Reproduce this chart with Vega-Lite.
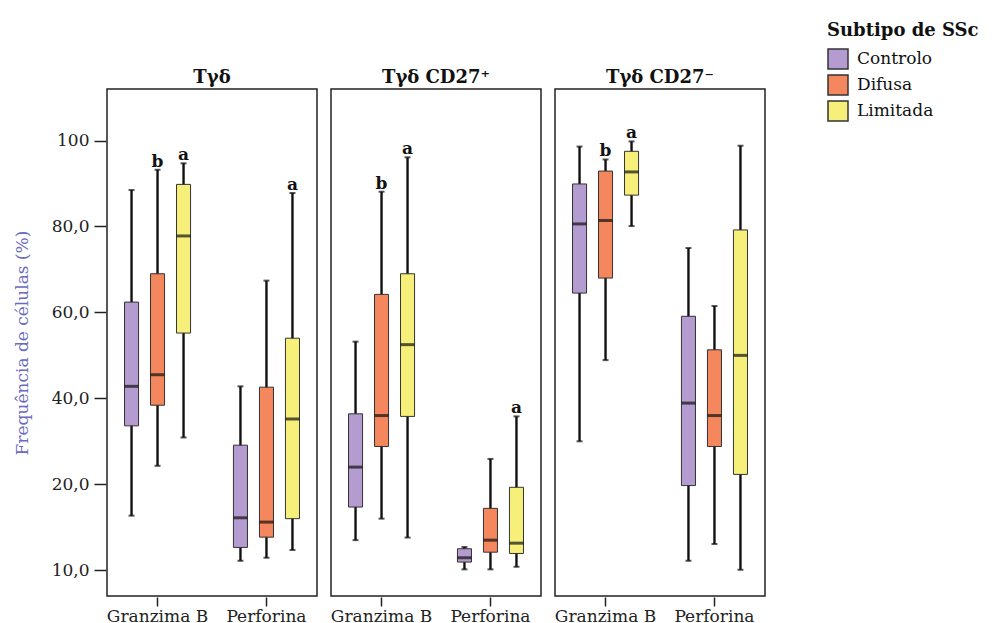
{
  "$schema": "https://vega.github.io/schema/vega-lite/v6.json",
  "padding": {"left": 13, "top": 22, "right": 0, "bottom": 0},
  "data": {"values": [
    {"panel": "Tγδ", "marker": "Granzima B", "group": "Controlo", "min": 12.7, "q1": 33.6, "median": 42.8, "q3": 62.4, "max": 88.5, "letter": ""},
    {"panel": "Tγδ", "marker": "Granzima B", "group": "Difusa", "min": 24.3, "q1": 38.4, "median": 45.5, "q3": 69.0, "max": 93.2, "letter": "b"},
    {"panel": "Tγδ", "marker": "Granzima B", "group": "Limitada", "min": 30.9, "q1": 55.2, "median": 77.8, "q3": 89.8, "max": 94.7, "letter": "a"},
    {"panel": "Tγδ", "marker": "Perforina", "group": "Controlo", "min": 2.2, "q1": 5.3, "median": 12.2, "q3": 29.1, "max": 42.8, "letter": ""},
    {"panel": "Tγδ", "marker": "Perforina", "group": "Difusa", "min": 2.9, "q1": 7.7, "median": 11.2, "q3": 42.6, "max": 67.4, "letter": ""},
    {"panel": "Tγδ", "marker": "Perforina", "group": "Limitada", "min": 4.7, "q1": 12.0, "median": 35.2, "q3": 54.0, "max": 87.8, "letter": "a"},
    {"panel": "Tγδ CD27⁺", "marker": "Granzima B", "group": "Controlo", "min": 7.0, "q1": 14.7, "median": 24.0, "q3": 36.4, "max": 53.2, "letter": ""},
    {"panel": "Tγδ CD27⁺", "marker": "Granzima B", "group": "Difusa", "min": 12.0, "q1": 28.8, "median": 36.0, "q3": 64.2, "max": 88.1, "letter": "b"},
    {"panel": "Tγδ CD27⁺", "marker": "Granzima B", "group": "Limitada", "min": 7.6, "q1": 35.8, "median": 52.5, "q3": 69.0, "max": 96.1, "letter": "a"},
    {"panel": "Tγδ CD27⁺", "marker": "Perforina", "group": "Controlo", "min": 0.2, "q1": 1.9, "median": 2.9, "q3": 5.0, "max": 5.4, "letter": ""},
    {"panel": "Tγδ CD27⁺", "marker": "Perforina", "group": "Difusa", "min": 0.2, "q1": 4.2, "median": 7.0, "q3": 14.4, "max": 25.9, "letter": ""},
    {"panel": "Tγδ CD27⁺", "marker": "Perforina", "group": "Limitada", "min": 0.8, "q1": 3.9, "median": 6.3, "q3": 19.3, "max": 35.8, "letter": "a"},
    {"panel": "Tγδ CD27⁻", "marker": "Granzima B", "group": "Controlo", "min": 30.0, "q1": 64.5, "median": 80.6, "q3": 89.9, "max": 98.6, "letter": ""},
    {"panel": "Tγδ CD27⁻", "marker": "Granzima B", "group": "Difusa", "min": 48.9, "q1": 68.0, "median": 81.4, "q3": 92.9, "max": 95.6, "letter": "b"},
    {"panel": "Tγδ CD27⁻", "marker": "Granzima B", "group": "Limitada", "min": 80.1, "q1": 87.3, "median": 92.7, "q3": 97.5, "max": 99.8, "letter": "a"},
    {"panel": "Tγδ CD27⁻", "marker": "Perforina", "group": "Controlo", "min": 2.2, "q1": 19.7, "median": 38.9, "q3": 59.1, "max": 75.0, "letter": ""},
    {"panel": "Tγδ CD27⁻", "marker": "Perforina", "group": "Difusa", "min": 6.1, "q1": 28.8, "median": 36.0, "q3": 51.3, "max": 61.5, "letter": ""},
    {"panel": "Tγδ CD27⁻", "marker": "Perforina", "group": "Limitada", "min": 0.1, "q1": 22.3, "median": 50.0, "q3": 79.2, "max": 98.8, "letter": ""}
  ]},
  "facet": {
    "column": {
      "field": "panel", "type": "nominal",
      "sort": ["Tγδ", "Tγδ CD27⁺", "Tγδ CD27⁻"],
      "header": {"title": null, "labelFont": "DejaVu Serif", "labelFontWeight": "bold", "labelFontSize": 18, "labelColor": "#111", "labelPadding": 1}
    }
  },
  "spacing": 12,
  "spec": {
    "width": 210,
    "height": 507,
    "encoding": {
      "x": {"field": "marker", "type": "nominal", "sort": ["Granzima B", "Perforina"],
        "scale": {"paddingInner": 0.1, "paddingOuter": 0.014},
        "axis": {"title": null, "labelAngle": 0}},
      "xOffset": {"field": "group", "type": "nominal", "sort": ["Controlo", "Difusa", "Limitada"],
        "scale": {"paddingInner": 0.46, "paddingOuter": 0.615}}
    },
    "layer": [
      {
        "mark": {"type": "rule", "color": "#111", "strokeWidth": 2.4},
        "encoding": {
          "y": {"field": "min", "type": "quantitative",
            "scale": {"domain": [-6, 112], "nice": false, "zero": false},
            "title": "Frequência de células (%)",
            "axis": {"values": [0, 20, 40, 60, 80, 100],
              "labelExpr": "datum.value == 0 ? '10,0' : (datum.value == 100 ? '100' : replace(format(datum.value, '.1f'), '.', ','))",
              "titleFont": "DejaVu Serif", "titleFontWeight": "normal", "titleFontSize": 17, "titleColor": "#6a6ac0", "titlePadding": 20}},
          "y2": {"field": "max"}
        }
      },
      {
        "mark": {"type": "tick", "color": "#111", "size": 6, "thickness": 2},
        "encoding": {"y": {"field": "min", "type": "quantitative"}}
      },
      {
        "mark": {"type": "tick", "color": "#111", "size": 6, "thickness": 2},
        "encoding": {"y": {"field": "max", "type": "quantitative"}}
      },
      {
        "mark": {"type": "bar", "stroke": "#333", "strokeWidth": 1},
        "encoding": {
          "y": {"field": "q1", "type": "quantitative"},
          "y2": {"field": "q3"},
          "fill": {"field": "group", "type": "nominal",
            "scale": {"domain": ["Controlo", "Difusa", "Limitada"], "range": ["#b49bd0", "#f4875e", "#f6f07a"]},
            "legend": {"title": "Subtipo de SSc", "orient": "none", "legendX": 720, "legendY": -67,
              "titleFont": "DejaVu Serif", "titleFontSize": 18, "titleFontWeight": "bold", "titleColor": "#111", "titlePadding": 8,
              "labelFont": "DejaVu Serif", "labelFontSize": 17, "labelColor": "#111",
              "symbolType": "square", "symbolSize": 400, "symbolStrokeColor": "#333", "symbolStrokeWidth": 1.5, "rowPadding": 0, "labelOffset": 8}}
        }
      },
      {
        "mark": {"type": "tick", "color": "#111", "size": 14, "thickness": 3},
        "encoding": {"y": {"field": "median", "type": "quantitative"}}
      },
      {
        "mark": {"type": "text", "fontWeight": "bold", "fontSize": 17, "font": "DejaVu Serif", "color": "#111", "baseline": "alphabetic", "dy": -3},
        "encoding": {
          "y": {"field": "max", "type": "quantitative"},
          "text": {"field": "letter"}
        }
      }
    ]
  },
  "config": {
    "font": "DejaVu Serif",
    "view": {"stroke": "#222", "strokeWidth": 1.5},
    "axis": {"grid": false, "domain": false, "tickColor": "#222", "tickWidth": 1.5, "labelColor": "#222", "labelFont": "DejaVu Serif", "labelFontSize": 17},
    "axisX": {"tickSize": 9, "labelFontSize": 17, "labelPadding": 2},
    "axisY": {"tickSize": 12, "labelPadding": 5}
  }
}
